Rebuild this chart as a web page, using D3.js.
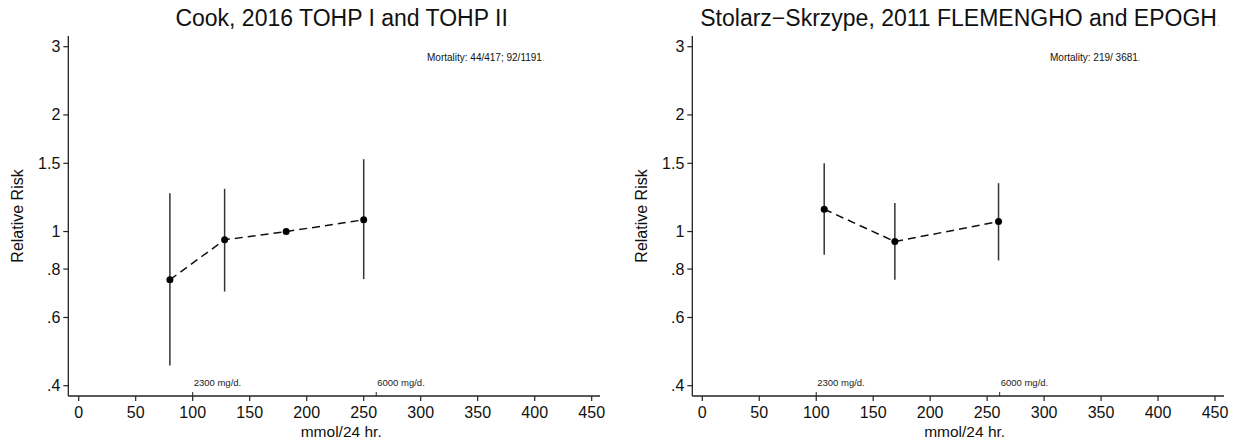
<!DOCTYPE html>
<html>
<head>
<meta charset="utf-8">
<script src="https://cdn.jsdelivr.net/npm/d3@7"></script>
<style>
  body { margin: 0; background: #fff; }
  svg { display: block; font-family: "Liberation Sans", Arial, Helvetica, sans-serif; }
</style>
</head>
<body>
<svg id="chart" width="1243" height="441"></svg>
<script>
// values
var xTicks = [0, 50, 100, 150, 200, 250, 300, 350, 400, 450];
var xTickLabels = ["0", "50", "100", "150", "200", "250", "300", "350", "400", "450"];
var yTicks = [0.4, 0.6, 0.8, 1, 1.5, 2, 3];
var yTickLabels = [".4", ".6", ".8", "1", "1.5", "2", "3"];

var cookX  = [80, 128, 182, 250];
var cookRR = [0.751, 0.952, 1.0, 1.072];
var cookLo = [0.451, 0.700, null, 0.754];
var cookHi = [1.256, 1.289, null, 1.537];

var stolX  = [107, 169, 260];
var stolRR = [1.142, 0.942, 1.061];
var stolLo = [0.871, 0.751, 0.842];
var stolHi = [1.500, 1.184, 1.333];

var refMarks = [100, 261];
var refLabels = ["2300 mg/d.", "6000 mg/d."];

var panels = [
  { title: "Cook, 2016 TOHP I and TOHP II", note: "Mortality: 44/417; 92/1191",
    x: cookX, rr: cookRR, lo: cookLo, hi: cookHi,
    left: 68.3, x0: 78.7, x1: 591.7, right: 600, noteX: 427, titleX: 343 },
  { title: "Stolarz\u2212Skrzype, 2011 FLEMENGHO and EPOGH", note: "Mortality: 219/ 3681",
    x: stolX, rr: stolRR, lo: stolLo, hi: stolHi,
    left: 692.3, x0: 702.3, x1: 1215, right: 1224, noteX: 1050, titleX: 960 }
];

var svg = d3.select("#chart");
var plotTop = 36, axisY = 396;

var y = d3.scaleLog().domain([0.4, 3]).range([385.7, 46.7]);

panels.forEach(function(p) {
  var x = d3.scaleLinear().domain([0, 450]).range([p.x0, p.x1]);
  var g = svg.append("g");

  // title
  g.append("text")
    .attr("x", p.titleX).attr("y", 26)
    .attr("text-anchor", "middle")
    .style("font-size", "23px").attr("fill", "#111")
    .text(p.title)
    .append("tspan").attr("fill", "#bbb").style("font-size", "10px").text(".");

  // axes lines
  g.append("line")
    .attr("x1", p.left).attr("x2", p.left)
    .attr("y1", plotTop).attr("y2", axisY)
    .attr("stroke", "#222").attr("stroke-width", 1.3);
  g.append("line")
    .attr("x1", p.left).attr("x2", p.right)
    .attr("y1", axisY).attr("y2", axisY)
    .attr("stroke", "#222").attr("stroke-width", 1.3);

  // y ticks
  var yt = g.selectAll(".yt").data(yTicks).enter().append("g");
  yt.append("line")
    .attr("x1", p.left - 5).attr("x2", p.left)
    .attr("y1", d => y(d)).attr("y2", d => y(d))
    .attr("stroke", "#222").attr("stroke-width", 1.2);
  yt.append("text")
    .attr("x", p.left - 8).attr("y", d => y(d) + 5.5)
    .attr("text-anchor", "end")
    .style("font-size", "16px").attr("fill", "#111")
    .text((d, i) => yTickLabels[i]);

  // x ticks
  var xt = g.selectAll(".xt").data(xTicks).enter().append("g");
  xt.append("line")
    .attr("x1", d => x(d)).attr("x2", d => x(d))
    .attr("y1", axisY).attr("y2", axisY + 5)
    .attr("stroke", "#222").attr("stroke-width", 1.2);
  xt.append("text")
    .attr("x", d => x(d)).attr("y", axisY + 22)
    .attr("text-anchor", "middle")
    .style("font-size", "16px").attr("fill", "#111")
    .text((d, i) => xTickLabels[i]);

  // reference marks
  refMarks.forEach(function(m, i) {
    g.append("line")
      .attr("x1", x(m)).attr("x2", x(m))
      .attr("y1", axisY - 4).attr("y2", axisY)
      .attr("stroke", "#222").attr("stroke-width", 1);
    g.append("text")
      .attr("x", x(m) + 1).attr("y", axisY - 10)
      .style("font-size", "9.5px").attr("fill", "#222")
      .text(refLabels[i]);
  });

  // axis titles
  g.append("text")
    .attr("transform", "translate(" + (p.left - 45) + "," + ((plotTop + axisY) / 2) + ") rotate(-90)")
    .attr("text-anchor", "middle")
    .style("font-size", "16px").attr("fill", "#111")
    .text("Relative Risk");
  g.append("text")
    .attr("x", (p.x0 + p.x1) / 2 + 6).attr("y", 437)
    .attr("text-anchor", "middle")
    .style("font-size", "15.5px").attr("fill", "#111")
    .text("mmol/24 hr")
    .append("tspan").text(".");

  // note
  g.append("text")
    .attr("x", p.noteX).attr("y", 61)
    .style("font-size", "10px").attr("fill", "#111")
    .text(p.note)
    .append("tspan").attr("fill", "#999").text(".");

  var pts = p.x.map((v, i) => ({ x: v, rr: p.rr[i], lo: p.lo[i], hi: p.hi[i] }));

  // CI
  g.selectAll(".ci").data(pts.filter(d => d.lo != null)).enter().append("line")
    .attr("x1", d => x(d.x)).attr("x2", d => x(d.x))
    .attr("y1", d => y(d.lo)).attr("y2", d => y(d.hi))
    .attr("stroke", "#333").attr("stroke-width", 1.5);

  // dashed line
  var line = d3.line().x(d => x(d.x)).y(d => y(d.rr));
  g.append("path")
    .datum(pts)
    .attr("d", line)
    .attr("fill", "none")
    .attr("stroke", "#111").attr("stroke-width", 1.5)
    .attr("stroke-dasharray", "8,5");

  g.selectAll(".pt").data(pts).enter().append("circle")
    .attr("cx", d => x(d.x)).attr("cy", d => y(d.rr))
    .attr("r", 3.5).attr("fill", "#000");
});
</script>
</body>
</html>
